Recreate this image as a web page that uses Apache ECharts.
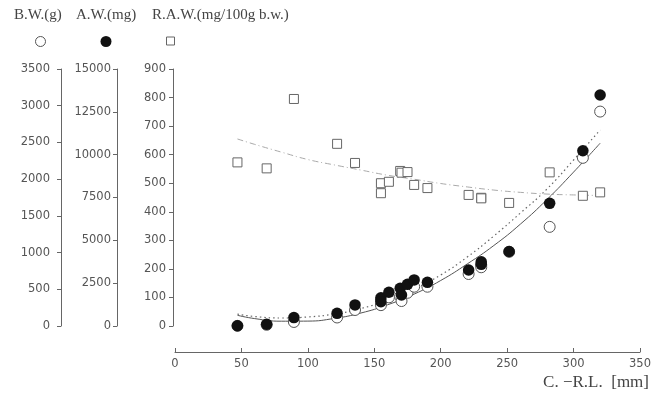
<!DOCTYPE html>
<html>
<head>
<meta charset="utf-8">
<script src="https://cdn.jsdelivr.net/npm/echarts@6/dist/echarts.min.js"></script>
<style>html,body{margin:0;padding:0;background:#fff}#c{width:665px;height:399px}</style>
</head>
<body>
<div id="c"></div>
<script>
// Carapace-rostral length (mm) of each specimen
var crl = [47, 69, 89.5, 122, 135.5, 155, 155, 161, 169.5, 170.5, 175, 180, 190, 221, 230.5, 230.5, 251.5, 282, 307, 320];
// Body weight (g)
var bw = [2, 16, 55, 116, 218, 355, 284, 390, 405, 340, 452, 535, 535, 708, 831, 800, 1010, 1350, 2290, 2920];
// Organ weight (mg)
var aw = [15, 95, 490, 740, 1230, 1650, 1420, 1970, 2200, 1810, 2430, 2690, 2550, 3270, 3750, 3600, 4350, 7160, 10230, 13480];
// Relative weight (mg/100g b.w.)
var raw = [573, 552, 795, 638, 571, 465, 500, 505, 543, 537, 539, 494, 483, 459, 449, 447, 431, 538, 456, 468];

// Fitted curves
var fitX = [47, 60, 80, 100, 120, 140, 160, 180, 200, 220, 240, 260, 280, 300, 320];
var fitAW = [625, 432, 280, 286, 444, 759, 1237, 1862, 2656, 3625, 4699, 5948, 7384, 8983, 10670];
var fitBW = [163, 129, 109, 123, 163, 238, 354, 504, 695, 940, 1226, 1539, 1866, 2261, 2670];
var fitRAW = [655, 636, 609, 583, 564, 546, 528, 514, 499, 487, 476, 468, 462, 459, 457];

// Axis ranges / ticks
var xTicks = {min: 0, max: 350, interval: 50};
var bwTicks = {min: 0, max: 3500, interval: 500};
var awTicks = {min: 0, max: 15000, interval: 2500};
var rawTicks = {min: 0, max: 900, interval: 100};

function pairs(xs, ys) { return xs.map(function (x, i) { return [x, ys[i]]; }); }

var axisCol = '#666';
var labFont = {color: '#555', fontSize: 11.5, fontFamily: 'DejaVu Sans', formatter: function (v) { return String(v); }};

function yAx(t, offset, margin) {
  return {
    type: 'value', position: 'left', offset: offset,
    min: t.min, max: t.max, interval: t.interval,
    axisLine: {show: true, onZero: false, lineStyle: {color: axisCol, width: 1}},
    axisTick: {show: true, inside: false, length: 4, lineStyle: {color: axisCol}},
    axisLabel: Object.assign({margin: margin}, labFont),
    splitLine: {show: false}
  };
}

var chart = echarts.init(document.getElementById('c'), null, {renderer: 'canvas'});
chart.setOption({
  animation: false,
  backgroundColor: '#fff',
  grid: {left: 175, right: 25, top: 69, bottom: 73},
  xAxis: {
    type: 'value', min: xTicks.min, max: xTicks.max, interval: xTicks.interval,
    offset: 26,
    axisLine: {show: true, onZero: false, lineStyle: {color: axisCol, width: 1}},
    axisTick: {show: true, inside: true, length: 4, lineStyle: {color: axisCol}},
    axisLabel: Object.assign({margin: 6}, labFont),
    splitLine: {show: false}
  },
  yAxis: [yAx(bwTicks, 114, 11), yAx(awTicks, 58, 6), yAx(rawTicks, 2, 7)],
  graphic: [
    {type: 'text', left: 14, top: 8, style: {text: 'B.W.(g)', font: '15px "Liberation Serif"', fill: '#444'}},
    {type: 'text', left: 76, top: 8, style: {text: 'A.W.(mg)', font: '15px "Liberation Serif"', fill: '#444'}},
    {type: 'text', left: 152, top: 8, style: {text: 'R.A.W.(mg/100g b.w.)', font: '15px "Liberation Serif"', fill: '#444'}},
    {type: 'circle', shape: {cx: 40.5, cy: 41.5, r: 5}, style: {fill: '#fff', stroke: '#555', lineWidth: 1}},
    {type: 'circle', shape: {cx: 106, cy: 41.5, r: 5.5}, style: {fill: '#111'}},
    {type: 'rect', shape: {x: 166.5, y: 37, width: 8, height: 8}, style: {fill: '#fff', stroke: '#666', lineWidth: 1}},
    {type: 'text', right: 16, top: 374, style: {text: 'C. \u2212R.L.  [mm]', font: '17px "Liberation Serif"', fill: '#444'}}
  ],
  series: [
    {type: 'line', yAxisIndex: 2, data: pairs(fitX, fitRAW), smooth: true, symbol: 'none', z: 1,
      lineStyle: {color: '#aaa', width: 1, type: [6, 3, 1, 3]}},
    {type: 'line', yAxisIndex: 1, data: pairs(fitX, fitAW), smooth: true, symbol: 'none', z: 1,
      lineStyle: {color: '#555', width: 1, type: 'solid'}},
    {type: 'line', yAxisIndex: 0, data: pairs(fitX, fitBW), smooth: true, symbol: 'none', z: 1,
      lineStyle: {color: '#666', width: 1.2, type: [1.5, 3]}},
    {type: 'scatter', yAxisIndex: 2, data: pairs(crl, raw), symbol: 'rect', symbolSize: 9, z: 3,
      itemStyle: {color: '#fff', borderColor: '#666', borderWidth: 1, opacity: 1}},
    {type: 'scatter', yAxisIndex: 0, data: pairs(crl, bw), symbol: 'circle', symbolSize: 11, z: 4,
      itemStyle: {color: '#fff', borderColor: '#555', borderWidth: 1, opacity: 1}},
    {type: 'scatter', yAxisIndex: 1, data: pairs(crl, aw), symbol: 'circle', symbolSize: 11.5, z: 5,
      itemStyle: {color: '#111', opacity: 1}}
  ]
});
</script>
</body>
</html>
